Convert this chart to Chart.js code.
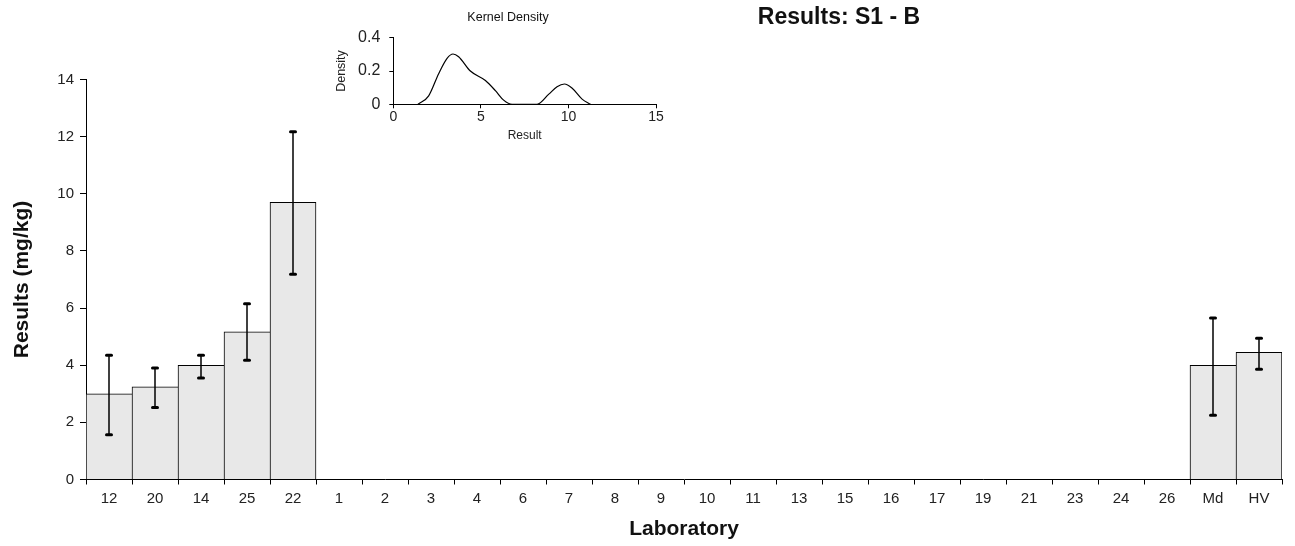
<!DOCTYPE html>
<html>
<head>
<meta charset="utf-8">
<script src="https://cdn.jsdelivr.net/npm/chart.js@4.4.1/dist/chart.umd.min.js"></script>
<style>
  html, body { margin: 0; padding: 0; background: #fff; }
  #wrap { position: relative; width: 1295px; height: 546px; }
  #main { position: absolute; left: 0; top: 0; }
  #inset { position: absolute; left: 320px; top: 0; }
</style>
</head>
<body>
<div id="wrap">
  <canvas id="main" width="1295" height="546"></canvas>
  <canvas id="inset" width="376" height="145"></canvas>
</div>
<script>
const labs = ['12', '20', '14', '25', '22', '1', '2', '3', '4', '6', '7', '8', '9', '10',
  '11', '13', '15', '16', '17', '19', '21', '23', '24', '26', 'Md', 'HV'];
const results = [3.0, 3.24, 4.0, 5.17, 9.7, null, null, null, null, null, null, null, null, null,
  null, null, null, null, null, null, null, null, null, null, 4.0, 4.45];
const errHigh = [4.35, 3.9, 4.35, 6.15, 12.17, null, null, null, null, null, null, null, null, null,
  null, null, null, null, null, null, null, null, null, null, 5.65, 4.94];
const errLow = [1.57, 2.52, 3.55, 4.17, 7.18, null, null, null, null, null, null, null, null, null,
  null, null, null, null, null, null, null, null, null, null, 2.25, 3.86];

// kernel density curve
const densityX = [1.41, 2.02, 2.59, 3.07, 3.41, 3.73, 4.4, 5.26, 5.83, 6.3, 6.78,
  8.21, 8.88, 9.35, 9.77, 10.2, 10.78, 11.26];
const densityY = [0, 0.051, 0.184, 0.276, 0.302, 0.286, 0.2, 0.143, 0.082, 0.025, 0,
  0, 0.061, 0.106, 0.122, 0.098, 0.031, 0];

const chartTitle = 'Results: S1 - B';
const insetTitle = 'Kernel Density';
const FONT = "Arial, 'Liberation Sans', sans-serif";

const errorBars = {
  id: 'errorBars',
  afterDatasetsDraw(chart) {
    const ctx = chart.ctx;
    const x = chart.scales.x, y = chart.scales.y;
    ctx.save();
    ctx.strokeStyle = '#000';
    errLow.forEach((lo, i) => {
      const hi = errHigh[i];
      if (lo == null || hi == null) return;
      const px = x.getPixelForValue(i);
      const yl = y.getPixelForValue(lo);
      const yh = y.getPixelForValue(hi);
      ctx.lineWidth = 1.5;
      ctx.lineCap = 'butt';
      ctx.beginPath();
      ctx.moveTo(px, yl);
      ctx.lineTo(px, yh);
      ctx.stroke();
      ctx.lineWidth = 3;
      ctx.lineCap = 'round';
      [yl, yh].forEach(yy => {
        ctx.beginPath();
        ctx.moveTo(px - 2.5, yy);
        ctx.lineTo(px + 2.5, yy);
        ctx.stroke();
      });
    });
    ctx.restore();
  }
};

// title text drawn at a fixed spot, as in the original export
function textLabel(id, text, font, x, y) {
  return {
    id: id,
    afterDraw(chart) {
      const ctx = chart.ctx;
      ctx.save();
      ctx.font = font;
      ctx.fillStyle = '#111';
      ctx.textAlign = 'center';
      ctx.textBaseline = 'middle';
      ctx.fillText(text, x, y);
      ctx.restore();
    }
  };
}

new Chart(document.getElementById('main'), {
  type: 'bar',
  data: {
    labels: labs,
    datasets: [{
      data: results,
      backgroundColor: '#e8e8e8',
      borderColor: '#000',
      borderWidth: ctx => ({
        top: 1, left: 1, bottom: 0,
        right: results[ctx.dataIndex + 1] == null ? 1 : 0
      }),
      barPercentage: 1,
      categoryPercentage: 1
    }]
  },
  options: {
    responsive: false,
    animation: false,
    layout: { padding: { left: 0, right: 13, top: 79.5, bottom: 2 } },
    plugins: {
      legend: { display: false },
      tooltip: { enabled: false }
    },
    scales: {
      x: {
        grid: { drawOnChartArea: false, tickLength: 5, color: '#000', offset: true },
        border: { color: '#000', width: 1 },
        ticks: { color: '#222', font: { family: FONT, size: 15 }, padding: 5, maxRotation: 0, autoSkip: false },
        title: {
          display: true, text: 'Laboratory', color: '#111',
          font: { family: FONT, size: 21, weight: 'bold' },
          padding: { top: 0, bottom: 2 }
        },
        afterFit: s => { s.height = 64.5; }
      },
      y: {
        min: 0,
        max: 14,
        grid: { drawOnChartArea: false, tickLength: 6, color: '#000' },
        border: { color: '#000', width: 1 },
        ticks: { stepSize: 2, color: '#222', font: { family: FONT, size: 15 }, padding: 6 },
        title: {
          display: true, text: 'Results (mg/kg)', color: '#111',
          font: { family: FONT, size: 21, weight: 'bold' },
          padding: { top: 10, bottom: 0 }
        },
        afterFit: s => { s.width = 86; }
      }
    }
  },
  plugins: [errorBars, textLabel('headTitle', chartTitle, 'bold 23px ' + FONT, 839, 18)]
});

new Chart(document.getElementById('inset'), {
  type: 'line',
  data: {
    datasets: [{
      data: densityX.map((x, i) => ({ x: x, y: densityY[i] })),
      borderColor: '#000',
      borderWidth: 1.2,
      pointRadius: 0,
      cubicInterpolationMode: 'monotone',
      fill: false
    }]
  },
  options: {
    responsive: false,
    animation: false,
    layout: { padding: { left: 0, right: 40, top: 37.7, bottom: 0 } },
    plugins: {
      legend: { display: false },
      tooltip: { enabled: false },
      title: { display: false }
    },
    scales: {
      x: {
        type: 'linear',
        min: 0,
        max: 15,
        grid: { drawOnChartArea: false, tickLength: 4, color: '#000' },
        border: { color: '#000', width: 1 },
        ticks: { stepSize: 5, color: '#222', font: { family: FONT, size: 14 }, padding: 0, maxRotation: 0 },
        title: {
          display: true, text: 'Result', color: '#222',
          font: { family: FONT, size: 12 },
          padding: { top: 0, bottom: 2 }
        },
        afterFit: s => { s.height = 40.7; }
      },
      y: {
        min: 0,
        max: 0.4,
        grid: { drawOnChartArea: false, tickLength: 4, color: '#000' },
        border: { color: '#000', width: 1 },
        ticks: { stepSize: 0.2, color: '#222', font: { family: FONT, size: 16 }, padding: 9 },
        title: {
          display: true, text: 'Density', color: '#222',
          font: { family: FONT, size: 12.5 },
          padding: { top: 14, bottom: 0 }
        },
        afterFit: s => { s.width = 73.3; }
      }
    }
  },
  plugins: [textLabel('insetTitle', insetTitle, '12.5px ' + FONT, 188, 18)]
});
</script>
</body>
</html>
